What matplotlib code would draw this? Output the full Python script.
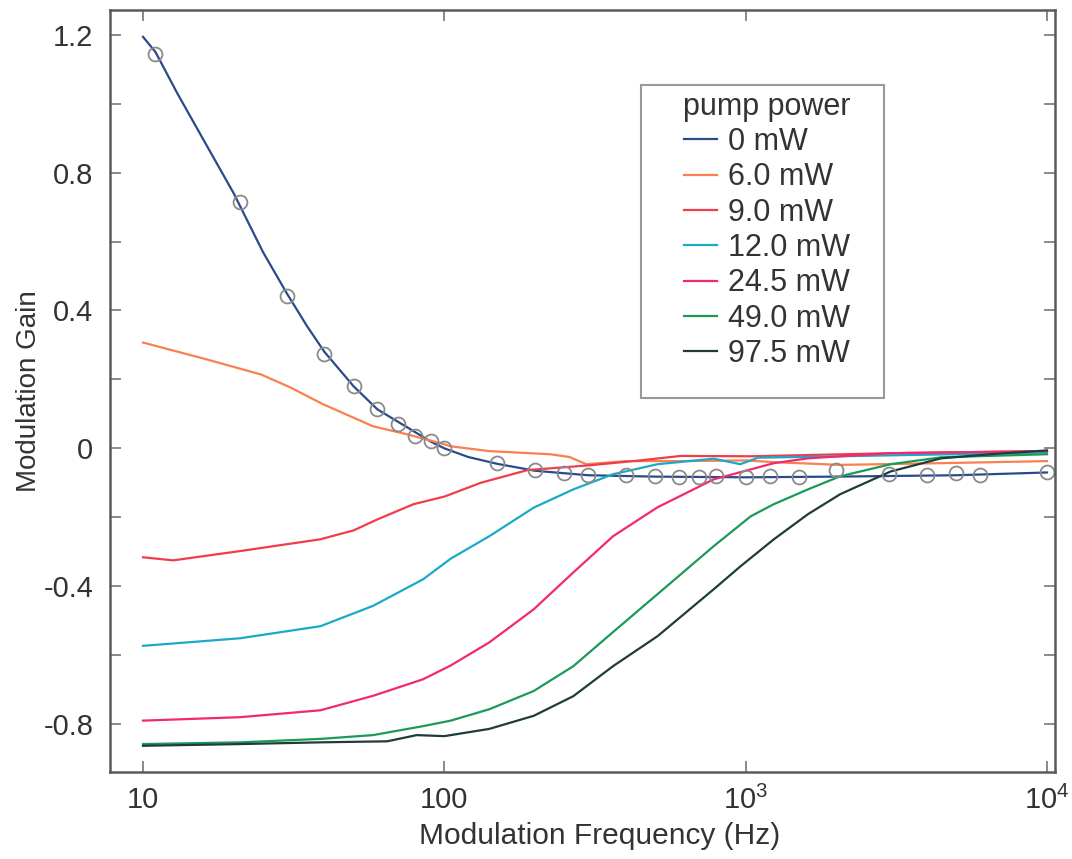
import matplotlib
matplotlib.use('Agg')
import matplotlib.pyplot as plt
from matplotlib.patches import Rectangle
from matplotlib.ticker import FixedLocator, FixedFormatter, MultipleLocator

plt.rcParams['font.family'] = ['Liberation Sans', 'DejaVu Sans']
plt.rcParams['mathtext.fontset'] = 'custom'
plt.rcParams['mathtext.rm'] = 'Liberation Sans'

# measured points (gray circles) for 0 mW
meas_f = [11, 21, 30, 40, 50, 60, 70, 80, 90, 100, 150, 200, 250, 300, 400, 500,
          600, 700, 800, 1000, 1200, 1500, 2000, 3000, 4000, 5000, 6000, 10000]
meas_g = [1.145, 0.716, 0.443, 0.275, 0.18, 0.113, 0.072, 0.035, 0.02, 0.0, -0.043,
          -0.064, -0.072, -0.078, -0.078, -0.081, -0.084, -0.084, -0.081, -0.084,
          -0.081, -0.084, -0.064, -0.075, -0.078, -0.072, -0.078, -0.069]

# 0 mW fit line
f0 = [10, 11, 13, 16, 20, 25, 30, 35, 40, 50, 60, 75, 90, 100, 120, 150, 200,
      300, 500, 1000, 2000, 5000, 10000]
g0 = [1.194, 1.15, 1.03, 0.89, 0.74, 0.57, 0.45, 0.355, 0.28, 0.18, 0.113, 0.062,
      0.02, 0.0, -0.025, -0.045, -0.065, -0.078, -0.082, -0.084, -0.082, -0.078, -0.07]

f6 = [10, 16.3, 24.7, 30.8, 39.6, 58, 75, 97, 105, 141, 224, 260, 296, 400, 600,
      1000, 1240, 2060, 4450, 10000]
g6 = [0.307, 0.258, 0.214, 0.177, 0.128, 0.064, 0.041, 0.015, 0.006, -0.008,
      -0.017, -0.025, -0.046, -0.037, -0.037, -0.035, -0.040, -0.048, -0.043, -0.037]

f9 = [10, 12.6, 21, 38.7, 50, 60, 79, 100, 132, 189, 305, 446, 608, 1040, 1500,
      3030, 10000]
g9 = [-0.316, -0.325, -0.298, -0.264, -0.238, -0.206, -0.162, -0.14, -0.1, -0.063,
      -0.049, -0.035, -0.022, -0.023, -0.02, -0.014, -0.008]

f12 = [10, 21, 38.8, 58, 85, 105, 141, 198, 268, 363, 510, 783, 960, 1100, 2060, 10000]
g12 = [-0.573, -0.551, -0.516, -0.457, -0.38, -0.32, -0.255, -0.172, -0.119, -0.075,
       -0.046, -0.03, -0.046, -0.027, -0.023, -0.012]

f24 = [10, 21, 38.8, 58, 85, 105, 141, 198, 268, 363, 510, 783, 1040, 1240, 1610,
       2060, 3030, 10000]
g24 = [-0.79, -0.78, -0.76, -0.718, -0.67, -0.63, -0.563, -0.467, -0.36, -0.255,
       -0.171, -0.09, -0.061, -0.043, -0.029, -0.023, -0.014, -0.008]

f49 = [10, 21, 38.8, 58, 85, 105, 141, 198, 268, 363, 510, 783, 1040, 1240, 1610,
       2060, 3030, 4450, 10000]
g49 = [-0.858, -0.853, -0.843, -0.832, -0.806, -0.79, -0.757, -0.704, -0.632, -0.533,
       -0.423, -0.284, -0.197, -0.162, -0.119, -0.081, -0.046, -0.026, -0.017]

f97 = [10, 21, 38.8, 64.6, 81, 100, 141, 198, 268, 363, 510, 783, 962, 1240, 1610,
       2060, 3030, 4450, 6500, 10000]
g97 = [-0.863, -0.858, -0.853, -0.85, -0.832, -0.835, -0.814, -0.776, -0.719, -0.632,
       -0.545, -0.409, -0.342, -0.264, -0.191, -0.133, -0.067, -0.029, -0.017, -0.006]

labels = ['0 mW', '6.0 mW', '9.0 mW', '12.0 mW', '24.5 mW', '49.0 mW', '97.5 mW']
colors = ['#2b4a8b', '#f9804f', '#f03c4b', '#1aa9c8', '#f5286f', '#1b9a57', '#1f3b3b']
series = [(f0, g0), (f6, g6), (f9, g9), (f12, g12), (f24, g24), (f49, g49), (f97, g97)]

fig = plt.figure(figsize=(10.72, 8.59), dpi=100)
ax = fig.add_axes([0.1026, 0.1013, 0.8815, 0.8871])

for (f, g), c, lab in zip(series, colors, labels):
    ax.plot(f, g, color=c, lw=1.6, label=lab)
ax.plot(meas_f, meas_g, 'o', ms=10, mfc='none', mec='#8a8a8a', mew=1.3)

ax.set_xscale('log')
ax.set_xlim(7.77, 10630)
ax.set_ylim(-0.939, 1.272)

ax.xaxis.set_major_locator(FixedLocator([10, 100, 1000, 10000]))
ax.xaxis.set_major_formatter(FixedFormatter(['10', '100', r'$10^3$', r'$10^4$']))
ax.xaxis.set_minor_locator(FixedLocator([]))
ax.yaxis.set_major_locator(FixedLocator([-0.8, -0.4, 0, 0.4, 0.8, 1.2]))
ax.yaxis.set_major_formatter(FixedFormatter(['-0.8', '-0.4', '0', '0.4', '0.8', '1.2']))
ax.yaxis.set_minor_locator(MultipleLocator(0.2))

ax.tick_params(which='both', direction='in', top=True, right=True, length=8,
               color='#777777', width=1.2, labelsize=21, labelcolor='#333333')
ax.tick_params(axis='y', pad=12)
ax.tick_params(axis='x', pad=10)
for sp in ax.spines.values():
    sp.set_color('#5a5a5a')
    sp.set_linewidth(1.8)

ax.set_xlabel('Modulation Frequency (Hz)', fontsize=21.5, color='#333333')
ax.set_ylabel('Modulation Gain', fontsize=20, color='#333333')
ax.xaxis.set_label_coords(0.518, -0.065)
ax.yaxis.set_label_coords(-0.072, 0.5)

# legend box drawn separately, content placed inside it
ax.add_patch(Rectangle((0.5619, 0.4908), 0.2571, 0.4108, transform=ax.transAxes,
                       facecolor='white', edgecolor='#999999', lw=1.5, zorder=4))
leg = ax.legend(title='pump power', loc='upper left', bbox_to_anchor=(0.6063, 0.893),
                borderaxespad=0, borderpad=0, fontsize=22, title_fontsize=22,
                frameon=False, handlelength=1.1, handletextpad=0.35, labelspacing=0.175)
leg.set_zorder(5)
for t in leg.get_texts():
    t.set_color('#333333')
leg.get_title().set_color('#333333')

fig.savefig('out.png', dpi=100)
